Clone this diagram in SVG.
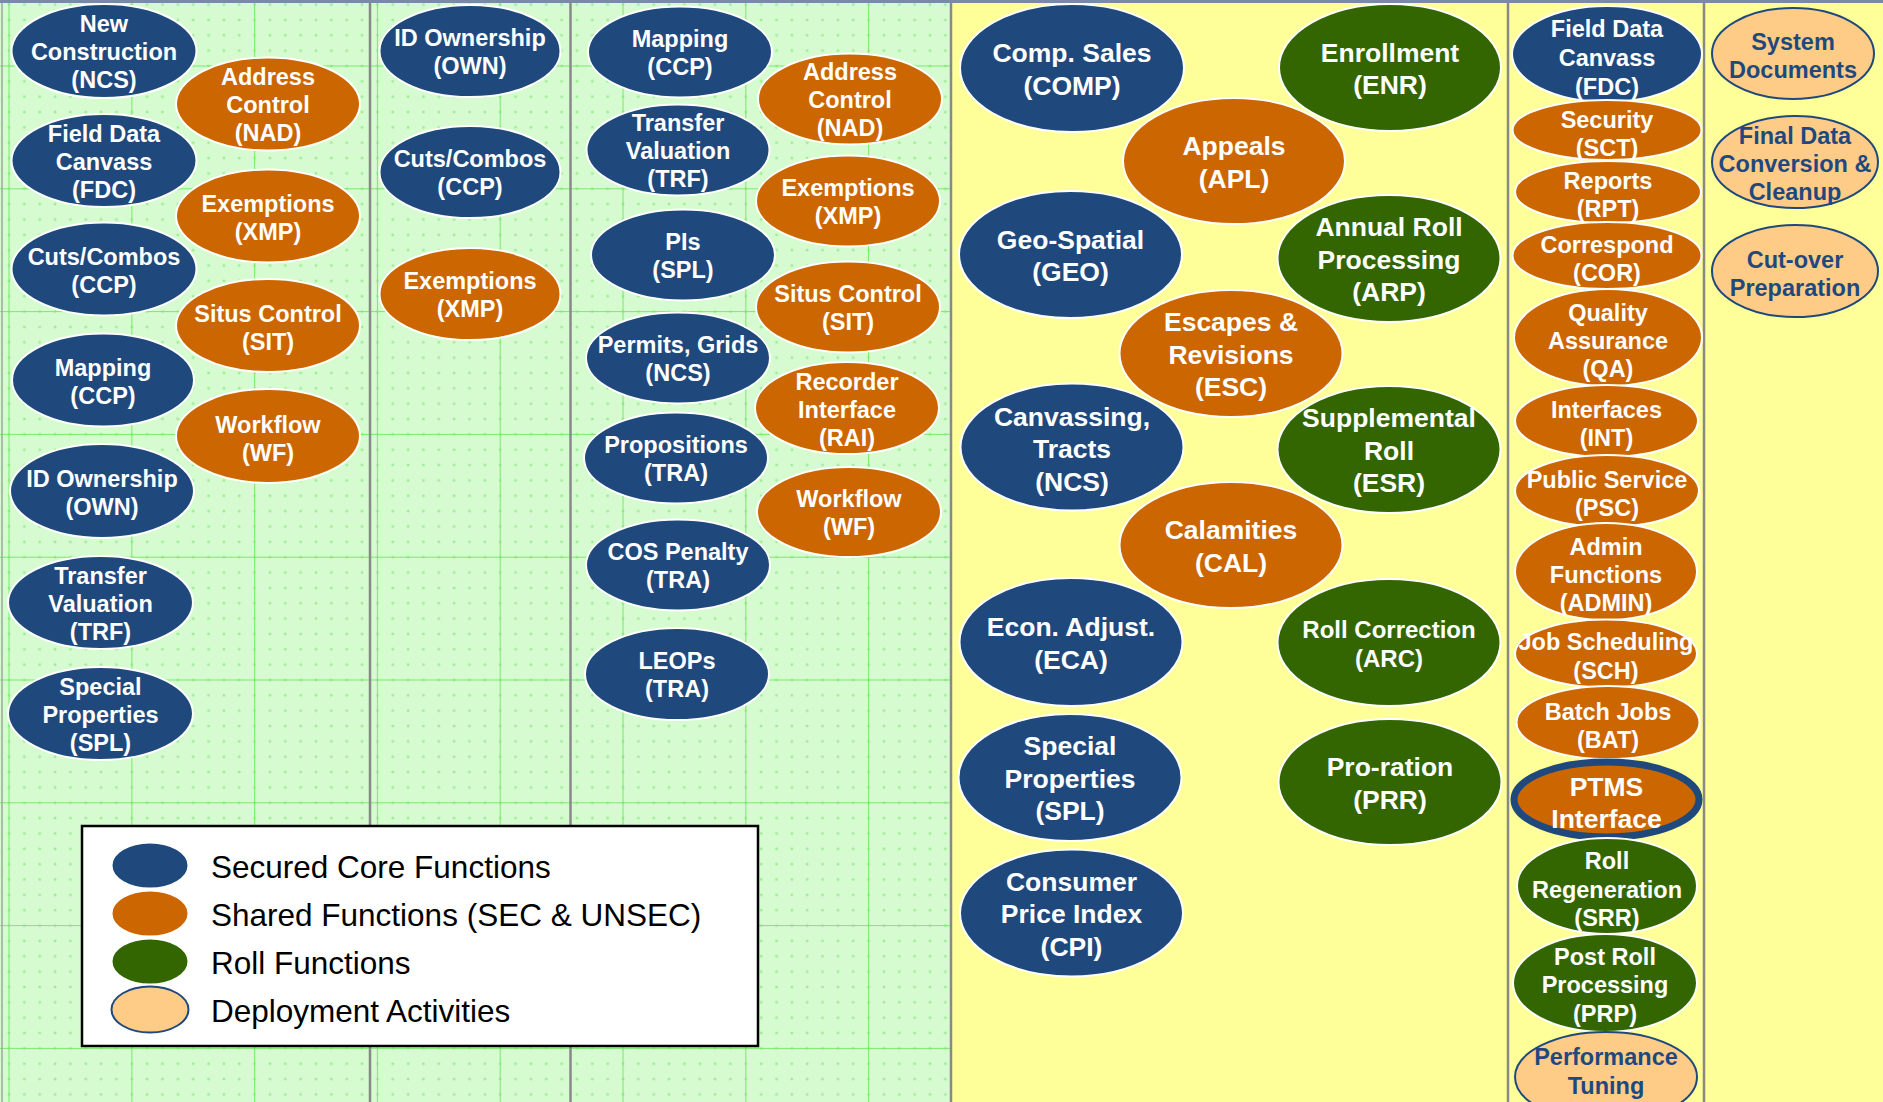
<svg xmlns="http://www.w3.org/2000/svg" width="1883" height="1102" viewBox="0 0 1883 1102">
<defs>
<pattern id="minor" x="1.3" y="58.3" width="15.35" height="15.35" patternUnits="userSpaceOnUse">
<path d="M6.2 7.7h3M7.7 6.2v3" stroke="#8ee886" stroke-width="1"/>
</pattern>
<pattern id="major" x="8.5" y="65.5" width="122.8" height="122.8" patternUnits="userSpaceOnUse">
<path d="M0 0.5H122.8M0.5 0V122.8" stroke="#7ce86e" stroke-width="1.1"/>
</pattern>
<style>
.b{fill:#1f497d;stroke:#fff;stroke-width:2}
.o{fill:#cc6600;stroke:#fff;stroke-width:2}
.g{fill:#336600;stroke:#fff;stroke-width:2}
.p{fill:#ffcc88;stroke:#1f497d;stroke-width:2}
.ptms{fill:#cc6600;stroke:#1f497d;stroke-width:7}
.t{font-family:"Liberation Sans",Arial,sans-serif;font-weight:bold;fill:#fff;text-anchor:middle;font-size:23.5px;transform:translateY(1px)}
.L{font-size:26.5px}
.tp{fill:#1f497d}
.div{stroke:#888;stroke-width:2.5}
.lg{font-family:"Liberation Sans",Arial,sans-serif;font-size:31.5px;fill:#000}
</style>
</defs>
<g id="background">
<rect x="0" y="0" width="951" height="1102" fill="#d6fbd0"/>
<rect x="0" y="0" width="951" height="1102" fill="url(#minor)"/>
<rect x="0" y="0" width="951" height="1102" fill="url(#major)"/>
<rect x="951" y="0" width="932" height="1102" fill="#ffff99"/>
<line x1="2" y1="0" x2="2" y2="1102" stroke="#9aa89a" stroke-width="1.5"/>
<line class="div" x1="370" y1="0" x2="370" y2="1102"/>
<line class="div" x1="570.5" y1="0" x2="570.5" y2="1102"/>
<line class="div" x1="951" y1="0" x2="951" y2="1102"/>
<line class="div" x1="1508" y1="0" x2="1508" y2="1102"/>
<line class="div" x1="1704" y1="0" x2="1704" y2="1102"/>
<rect x="0" y="0" width="1883" height="3" fill="#7a89a8"/>
</g>
<g id="connectors"/>
<!-- Column 1 -->
<g id="c1-ncs"><ellipse class="b" cx="104" cy="51" rx="92.5" ry="47"/><text class="t"><tspan x="104" y="31">New</tspan><tspan x="104" y="59">Construction</tspan><tspan x="104" y="87">(NCS)</tspan></text></g>
<g id="c1-nad"><ellipse class="o" cx="268" cy="104" rx="92" ry="46.5"/><text class="t"><tspan x="268" y="84">Address</tspan><tspan x="268" y="112">Control</tspan><tspan x="268" y="140">(NAD)</tspan></text></g>
<g id="c1-fdc"><ellipse class="b" cx="104" cy="160.5" rx="92.5" ry="46.5"/><text class="t"><tspan x="104" y="140.5">Field Data</tspan><tspan x="104" y="168.5">Canvass</tspan><tspan x="104" y="196.5">(FDC)</tspan></text></g>
<g id="c1-xmp"><ellipse class="o" cx="268" cy="216" rx="92" ry="46.5"/><text class="t"><tspan x="268" y="211">Exemptions</tspan><tspan x="268" y="239">(XMP)</tspan></text></g>
<g id="c1-ccp"><ellipse class="b" cx="104" cy="269" rx="92.5" ry="46.5"/><text class="t"><tspan x="104" y="264">Cuts/Combos</tspan><tspan x="104" y="292">(CCP)</tspan></text></g>
<g id="c1-sit"><ellipse class="o" cx="268" cy="325.5" rx="92" ry="46.5"/><text class="t"><tspan x="268" y="320.5">Situs Control</tspan><tspan x="268" y="348.5">(SIT)</tspan></text></g>
<g id="c1-map"><ellipse class="b" cx="103" cy="380" rx="91" ry="46.5"/><text class="t"><tspan x="103" y="375">Mapping</tspan><tspan x="103" y="403">(CCP)</tspan></text></g>
<g id="c1-wf"><ellipse class="o" cx="268" cy="436" rx="92" ry="47"/><text class="t"><tspan x="268" y="432">Workflow</tspan><tspan x="268" y="460">(WF)</tspan></text></g>
<g id="c1-own"><ellipse class="b" cx="102" cy="491" rx="92" ry="47"/><text class="t"><tspan x="102" y="486">ID Ownership</tspan><tspan x="102" y="514">(OWN)</tspan></text></g>
<g id="c1-trf"><ellipse class="b" cx="100.5" cy="602.5" rx="92.5" ry="46.5"/><text class="t"><tspan x="100.5" y="583">Transfer</tspan><tspan x="100.5" y="611">Valuation</tspan><tspan x="100.5" y="639">(TRF)</tspan></text></g>
<g id="c1-spl"><ellipse class="b" cx="100.5" cy="713.5" rx="92.5" ry="46.5"/><text class="t"><tspan x="100.5" y="694">Special</tspan><tspan x="100.5" y="722">Properties</tspan><tspan x="100.5" y="750">(SPL)</tspan></text></g>
<!-- Column 2 -->
<g id="c2-own"><ellipse class="b" cx="470" cy="51" rx="90.5" ry="46"/><text class="t"><tspan x="470" y="45">ID Ownership</tspan><tspan x="470" y="73">(OWN)</tspan></text></g>
<g id="c2-ccp"><ellipse class="b" cx="470" cy="172" rx="90.5" ry="46"/><text class="t"><tspan x="470" y="166">Cuts/Combos</tspan><tspan x="470" y="194">(CCP)</tspan></text></g>
<g id="c2-xmp"><ellipse class="o" cx="470" cy="294" rx="90.5" ry="46"/><text class="t"><tspan x="470" y="288">Exemptions</tspan><tspan x="470" y="316">(XMP)</tspan></text></g>
<!-- Column 3 -->
<g id="c3-map"><ellipse class="b" cx="680" cy="52" rx="92" ry="45.5"/><text class="t"><tspan x="680" y="46">Mapping</tspan><tspan x="680" y="74">(CCP)</tspan></text></g>
<g id="c3-nad"><ellipse class="o" cx="850" cy="99" rx="92" ry="45.5"/><text class="t"><tspan x="850" y="79">Address</tspan><tspan x="850" y="107">Control</tspan><tspan x="850" y="135">(NAD)</tspan></text></g>
<g id="c3-trf"><ellipse class="b" cx="678" cy="150" rx="91.5" ry="45.5"/><text class="t"><tspan x="678" y="130">Transfer</tspan><tspan x="678" y="158">Valuation</tspan><tspan x="678" y="186">(TRF)</tspan></text></g>
<g id="c3-xmp"><ellipse class="o" cx="848" cy="201" rx="92" ry="45.5"/><text class="t"><tspan x="848" y="195">Exemptions</tspan><tspan x="848" y="223">(XMP)</tspan></text></g>
<g id="c3-pis"><ellipse class="b" cx="683" cy="255" rx="92" ry="45.5"/><text class="t"><tspan x="683" y="249">PIs</tspan><tspan x="683" y="277">(SPL)</tspan></text></g>
<g id="c3-sit"><ellipse class="o" cx="848" cy="307" rx="92" ry="45.5"/><text class="t"><tspan x="848" y="301">Situs Control</tspan><tspan x="848" y="329">(SIT)</tspan></text></g>
<g id="c3-ncs"><ellipse class="b" cx="678" cy="358" rx="92" ry="45.5"/><text class="t"><tspan x="678" y="352">Permits, Grids</tspan><tspan x="678" y="380">(NCS)</tspan></text></g>
<g id="c3-rai"><ellipse class="o" cx="847" cy="408" rx="92" ry="46"/><text class="t"><tspan x="847" y="389">Recorder</tspan><tspan x="847" y="417">Interface</tspan><tspan x="847" y="445">(RAI)</tspan></text></g>
<g id="c3-prop"><ellipse class="b" cx="676" cy="458" rx="92" ry="45.5"/><text class="t"><tspan x="676" y="452">Propositions</tspan><tspan x="676" y="480">(TRA)</tspan></text></g>
<g id="c3-wf"><ellipse class="o" cx="849" cy="512" rx="92" ry="45"/><text class="t"><tspan x="849" y="506">Workflow</tspan><tspan x="849" y="534">(WF)</tspan></text></g>
<g id="c3-cos"><ellipse class="b" cx="678" cy="565" rx="92" ry="45.5"/><text class="t"><tspan x="678" y="559">COS Penalty</tspan><tspan x="678" y="587">(TRA)</tspan></text></g>
<g id="c3-leop"><ellipse class="b" cx="677" cy="674" rx="92" ry="46"/><text class="t"><tspan x="677" y="668">LEOPs</tspan><tspan x="677" y="696">(TRA)</tspan></text></g>
<!-- Column 4 -->
<g id="c4-comp"><ellipse class="b" cx="1072" cy="68" rx="112" ry="64"/><text class="t L"><tspan x="1072" y="61">Comp. Sales</tspan><tspan x="1072" y="93.5">(COMP)</tspan></text></g>
<g id="c4-enr"><ellipse class="g" cx="1390" cy="67.5" rx="111" ry="63.5"/><text class="t L"><tspan x="1390" y="60.5">Enrollment</tspan><tspan x="1390" y="93">(ENR)</tspan></text></g>
<g id="c4-apl"><ellipse class="o" cx="1234" cy="161" rx="111" ry="63"/><text class="t L"><tspan x="1234" y="154">Appeals</tspan><tspan x="1234" y="186.5">(APL)</tspan></text></g>
<g id="c4-geo"><ellipse class="b" cx="1070.5" cy="254.5" rx="111.5" ry="63.5"/><text class="t L"><tspan x="1070.5" y="247.5">Geo-Spatial</tspan><tspan x="1070.5" y="280">(GEO)</tspan></text></g>
<g id="c4-arp"><ellipse class="g" cx="1389" cy="258.5" rx="111.5" ry="63.5"/><text class="t L"><tspan x="1389" y="235">Annual Roll</tspan><tspan x="1389" y="267.5">Processing</tspan><tspan x="1389" y="300">(ARP)</tspan></text></g>
<g id="c4-esc"><ellipse class="o" cx="1231" cy="353.5" rx="111.5" ry="63.5"/><text class="t L"><tspan x="1231" y="330">Escapes &amp;</tspan><tspan x="1231" y="362.5">Revisions</tspan><tspan x="1231" y="395">(ESC)</tspan></text></g>
<g id="c4-ncs"><ellipse class="b" cx="1072" cy="447" rx="111.5" ry="63.5"/><text class="t L"><tspan x="1072" y="424.5">Canvassing,</tspan><tspan x="1072" y="457">Tracts</tspan><tspan x="1072" y="489.5">(NCS)</tspan></text></g>
<g id="c4-esr"><ellipse class="g" cx="1389" cy="449.5" rx="111.5" ry="63.5"/><text class="t L"><tspan x="1389" y="426">Supplemental</tspan><tspan x="1389" y="458.5">Roll</tspan><tspan x="1389" y="491">(ESR)</tspan></text></g>
<g id="c4-cal"><ellipse class="o" cx="1231" cy="545" rx="111.5" ry="63"/><text class="t L"><tspan x="1231" y="538">Calamities</tspan><tspan x="1231" y="570.5">(CAL)</tspan></text></g>
<g id="c4-eca"><ellipse class="b" cx="1071" cy="642" rx="111.5" ry="64"/><text class="t L"><tspan x="1071" y="635">Econ. Adjust.</tspan><tspan x="1071" y="667.5">(ECA)</tspan></text></g>
<g id="c4-arc"><ellipse class="g" cx="1389" cy="642.5" rx="111.5" ry="63.5"/><text class="t" style="font-size:24px"><tspan x="1389" y="637">Roll Correction</tspan><tspan x="1389" y="666">(ARC)</tspan></text></g>
<g id="c4-spl"><ellipse class="b" cx="1070" cy="777.5" rx="111.5" ry="63.5"/><text class="t L"><tspan x="1070" y="754">Special</tspan><tspan x="1070" y="786.5">Properties</tspan><tspan x="1070" y="819">(SPL)</tspan></text></g>
<g id="c4-prr"><ellipse class="g" cx="1390" cy="782" rx="111.5" ry="63"/><text class="t L"><tspan x="1390" y="775">Pro-ration</tspan><tspan x="1390" y="807.5">(PRR)</tspan></text></g>
<g id="c4-cpi"><ellipse class="b" cx="1071.5" cy="913" rx="111.5" ry="63.5"/><text class="t L"><tspan x="1071.5" y="889.5">Consumer</tspan><tspan x="1071.5" y="922">Price Index</tspan><tspan x="1071.5" y="954.5">(CPI)</tspan></text></g>
<!-- Column 5 -->
<g id="c5-fdc"><ellipse class="b" cx="1607" cy="54" rx="95" ry="48"/><text class="t"><tspan x="1607" y="36">Field Data</tspan><tspan x="1607" y="65">Canvass</tspan><tspan x="1607" y="94">(FDC)</tspan></text></g>
<g id="c5-sct"><ellipse class="o" cx="1607" cy="130" rx="94.5" ry="30"/><text class="t"><tspan x="1607" y="127">Security</tspan><tspan x="1607" y="155">(SCT)</tspan></text></g>
<g id="c5-rpt"><ellipse class="o" cx="1608" cy="192" rx="93" ry="31"/><text class="t"><tspan x="1608" y="187.5">Reports</tspan><tspan x="1608" y="216">(RPT)</tspan></text></g>
<g id="c5-cor"><ellipse class="o" cx="1607" cy="255.5" rx="94.5" ry="33.5"/><text class="t"><tspan x="1607" y="252">Correspond</tspan><tspan x="1607" y="280">(COR)</tspan></text></g>
<g id="c5-qa"><ellipse class="o" cx="1608" cy="337.5" rx="94" ry="48.5"/><text class="t"><tspan x="1608" y="319.5">Quality</tspan><tspan x="1608" y="347.5">Assurance</tspan><tspan x="1608" y="375.5">(QA)</tspan></text></g>
<g id="c5-int"><ellipse class="o" cx="1606.5" cy="421" rx="91.5" ry="36"/><text class="t"><tspan x="1606.5" y="417">Interfaces</tspan><tspan x="1606.5" y="445">(INT)</tspan></text></g>
<g id="c5-psc"><ellipse class="o" cx="1607" cy="491" rx="92" ry="36"/><text class="t"><tspan x="1607" y="486.5">Public Service</tspan><tspan x="1607" y="515">(PSC)</tspan></text></g>
<g id="c5-admin"><ellipse class="o" cx="1606" cy="571.5" rx="91" ry="48.5"/><text class="t"><tspan x="1606" y="553.5">Admin</tspan><tspan x="1606" y="582">Functions</tspan><tspan x="1606" y="610">(ADMIN)</tspan></text></g>
<g id="c5-sch"><ellipse class="o" cx="1606" cy="653.5" rx="91" ry="34"/><text class="t"><tspan x="1606" y="649">Job Scheduling</tspan><tspan x="1606" y="678">(SCH)</tspan></text></g>
<g id="c5-bat"><ellipse class="o" cx="1608" cy="722.5" rx="91.5" ry="36.5"/><text class="t"><tspan x="1608" y="718.5">Batch Jobs</tspan><tspan x="1608" y="747">(BAT)</tspan></text></g>
<g id="c5-ptms"><ellipse class="ptms" cx="1606.5" cy="799.5" rx="92.5" ry="37.5"/><text class="t L"><tspan x="1606.5" y="795">PTMS</tspan><tspan x="1606.5" y="827">Interface</tspan></text></g>
<g id="c5-srr"><ellipse class="g" cx="1607" cy="886" rx="90" ry="48"/><text class="t"><tspan x="1607" y="868">Roll</tspan><tspan x="1607" y="896.5">Regeneration</tspan><tspan x="1607" y="925">(SRR)</tspan></text></g>
<g id="c5-prp"><ellipse class="g" cx="1605" cy="983" rx="92" ry="49"/><text class="t"><tspan x="1605" y="964">Post Roll</tspan><tspan x="1605" y="992">Processing</tspan><tspan x="1605" y="1021">(PRP)</tspan></text></g>
<g id="c5-perf"><ellipse class="p" cx="1606" cy="1077" rx="91" ry="45"/><text class="t tp"><tspan x="1606" y="1064">Performance</tspan><tspan x="1606" y="1092.5">Tuning</tspan></text></g>
<!-- Column 6 -->
<g id="c6-sysdoc"><ellipse class="p" cx="1793" cy="53.5" rx="81" ry="45.5"/><text class="t tp"><tspan x="1793" y="49">System</tspan><tspan x="1793" y="77">Documents</tspan></text></g>
<g id="c6-fdcc"><ellipse class="p" cx="1795" cy="162" rx="83" ry="46"/><text class="t tp"><tspan x="1795" y="143">Final Data</tspan><tspan x="1795" y="171">Conversion &amp;</tspan><tspan x="1795" y="198.5">Cleanup</tspan></text></g>
<g id="c6-cutover"><ellipse class="p" cx="1795" cy="271" rx="83" ry="46"/><text class="t tp"><tspan x="1795" y="267">Cut-over</tspan><tspan x="1795" y="295">Preparation</tspan></text></g>
<!-- Legend -->
<g id="legend">
<rect x="82" y="826" width="676" height="220" fill="#fff" stroke="#000" stroke-width="2.5"/>
<ellipse class="b" cx="150" cy="865.5" rx="38.5" ry="23"/>
<ellipse class="o" cx="150" cy="913.5" rx="38.5" ry="23"/>
<ellipse class="g" cx="150" cy="961.5" rx="38.5" ry="23"/>
<ellipse class="p" cx="150" cy="1009.5" rx="38.5" ry="23"/>
<text class="lg" x="211" y="878">Secured Core Functions</text>
<text class="lg" x="211" y="926">Shared Functions (SEC &amp; UNSEC)</text>
<text class="lg" x="211" y="974">Roll Functions</text>
<text class="lg" x="211" y="1022">Deployment Activities</text>
</g>
</svg>
